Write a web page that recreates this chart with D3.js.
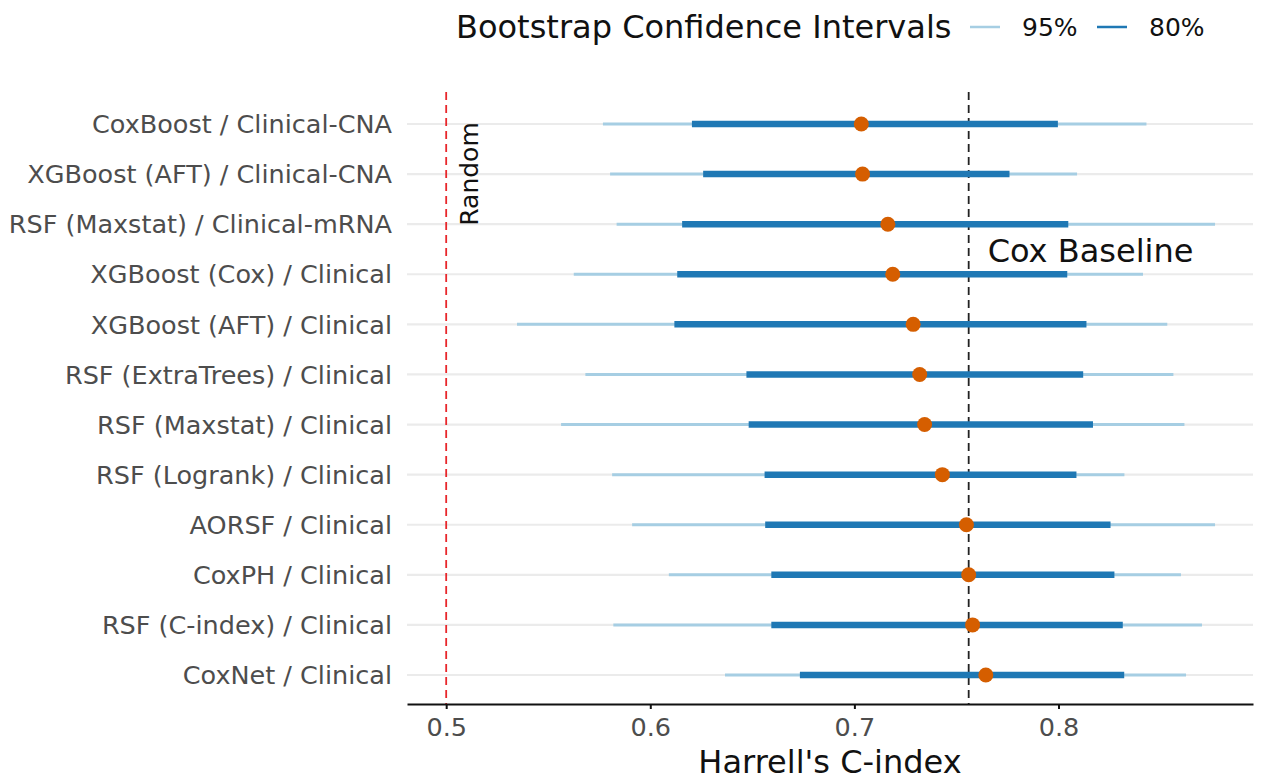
<!DOCTYPE html>
<html>
<head>
<meta charset="utf-8">
<script src="https://cdn.jsdelivr.net/npm/d3@7"></script>
<style>
  html, body { margin: 0; padding: 0; background: #fff; }
  svg { display: block; font-family: "DejaVu Sans", sans-serif; }
</style>
</head>
<body>
<svg id="chart" width="1264" height="782"></svg>
<script>
// Models, top to bottom
const models = [
  "CoxBoost / Clinical-CNA",
  "XGBoost (AFT) / Clinical-CNA",
  "RSF (Maxstat) / Clinical-mRNA",
  "XGBoost (Cox) / Clinical",
  "XGBoost (AFT) / Clinical",
  "RSF (ExtraTrees) / Clinical",
  "RSF (Maxstat) / Clinical",
  "RSF (Logrank) / Clinical",
  "AORSF / Clinical",
  "CoxPH / Clinical",
  "RSF (C-index) / Clinical",
  "CoxNet / Clinical"
];
// Point estimates of Harrell's C-index
const cIndex = [0.7034, 0.7040, 0.7164, 0.7188, 0.7288, 0.7320, 0.7344, 0.7431, 0.7549, 0.7560, 0.7579, 0.7644];
// 95% bootstrap interval
const lo95 = [0.5768, 0.5803, 0.5835, 0.5625, 0.5347, 0.5682, 0.5563, 0.5813, 0.5911, 0.6091, 0.5819, 0.6366];
const hi95 = [0.8431, 0.8091, 0.8767, 0.8414, 0.8533, 0.8563, 0.8617, 0.8323, 0.8767, 0.8600, 0.8703, 0.8625];
// 80% bootstrap interval
const lo80 = [0.6204, 0.6259, 0.6156, 0.6132, 0.6118, 0.6471, 0.6482, 0.6560, 0.6563, 0.6593, 0.6593, 0.6733];
const hi80 = [0.7997, 0.7760, 0.8048, 0.8043, 0.8137, 0.8121, 0.8169, 0.8088, 0.8255, 0.8274, 0.8315, 0.8322];
const xTicks = [0.5, 0.6, 0.7, 0.8];
const randomLevel = 0.5;
const coxBaseline = cIndex[models.indexOf("CoxPH / Clinical")];
const legendItems = ["95%", "80%"];

const colLight = "#a6cee3", colDark = "#1f78b4", colPoint = "#d55e00";

const svg = d3.select("#chart");
const plotLeft = 407, plotRight = 1253, plotBottom = 704;

const x = d3.scaleLinear().domain([0.4808, 0.8953]).range([plotLeft, plotRight]);
const y = d3.scalePoint().domain(models).range([124, 675]);

const rows = models.map((m, i) => ({
  m, est: cIndex[i], lo95: lo95[i], hi95: hi95[i], lo80: lo80[i], hi80: hi80[i]
}));

// horizontal grid lines
svg.append("g").selectAll("line").data(models).join("line")
  .attr("x1", plotLeft).attr("x2", plotRight)
  .attr("y1", d => y(d)).attr("y2", d => y(d))
  .attr("stroke", "#ebebeb").attr("stroke-width", 2.2);

// reference lines
svg.append("line")
  .attr("x1", x(randomLevel)).attr("x2", x(randomLevel))
  .attr("y1", 92).attr("y2", plotBottom)
  .attr("stroke", "#e8262b").attr("stroke-width", 1.8)
  .attr("stroke-dasharray", "8,5");
svg.append("line")
  .attr("x1", x(coxBaseline)).attr("x2", x(coxBaseline))
  .attr("y1", 92).attr("y2", plotBottom)
  .attr("stroke", "#222").attr("stroke-width", 1.8)
  .attr("stroke-dasharray", "8,5");

// 95% intervals
svg.append("g").selectAll("line").data(rows).join("line")
  .attr("x1", d => x(d.lo95)).attr("x2", d => x(d.hi95))
  .attr("y1", d => y(d.m)).attr("y2", d => y(d.m))
  .attr("stroke", colLight).attr("stroke-width", 3);

// 80% intervals
svg.append("g").selectAll("line").data(rows).join("line")
  .attr("x1", d => x(d.lo80)).attr("x2", d => x(d.hi80))
  .attr("y1", d => y(d.m)).attr("y2", d => y(d.m))
  .attr("stroke", colDark).attr("stroke-width", 6.5);

// point estimates
svg.append("g").selectAll("circle").data(rows).join("circle")
  .attr("cx", d => x(d.est)).attr("cy", d => y(d.m))
  .attr("r", 7.5).attr("fill", colPoint);

// annotations
svg.append("text")
  .attr("transform", `translate(${x(randomLevel) + 32},174) rotate(-90)`)
  .attr("text-anchor", "middle")
  .attr("font-size", 25).attr("fill", "#111")
  .text("Random");
svg.append("text")
  .attr("x", x(coxBaseline) + 19).attr("y", 262)
  .attr("font-size", 32).attr("fill", "#111")
  .text("Cox Baseline");

// y axis labels
svg.append("g").selectAll("text").data(models).join("text")
  .attr("x", 392).attr("y", d => y(d))
  .attr("dy", "0.36em")
  .attr("text-anchor", "end")
  .attr("font-size", 25.5).attr("fill", "#4d4d4d")
  .text(d => d);

// x axis
const xAxis = svg.append("g")
  .attr("transform", `translate(0,${plotBottom})`)
  .call(d3.axisBottom(x).tickValues(xTicks).tickFormat(d3.format(".1f")).tickSize(5).tickSizeOuter(0));
xAxis.select(".domain").attr("stroke", "#111").attr("stroke-width", 2.2);
xAxis.selectAll(".tick line").attr("stroke", "#111").attr("stroke-width", 2);
xAxis.selectAll(".tick text")
  .attr("font-family", "DejaVu Sans, sans-serif")
  .attr("font-size", 25.5).attr("fill", "#4d4d4d").attr("dy", "0.95em");

svg.append("text")
  .attr("x", (plotLeft + plotRight) / 2).attr("y", 773)
  .attr("text-anchor", "middle")
  .attr("font-size", 32).attr("fill", "#111")
  .text("Harrell's C-index");

// legend
const lg = svg.append("g");
lg.append("text")
  .attr("x", 456).attr("y", 38)
  .attr("font-size", 32).attr("fill", "#111")
  .text("Bootstrap Confidence Intervals");
const legendX = [970, 1097];
const legendCols = [colLight, colDark];
legendItems.forEach((lab, i) => {
  lg.append("line")
    .attr("x1", legendX[i]).attr("x2", legendX[i] + 30)
    .attr("y1", 27).attr("y2", 27)
    .attr("stroke", legendCols[i]).attr("stroke-width", 2.5);
  lg.append("text")
    .attr("x", legendX[i] + 52).attr("y", 36)
    .attr("font-size", 25).attr("fill", "#111")
    .text(lab);
});
</script>
</body>
</html>
